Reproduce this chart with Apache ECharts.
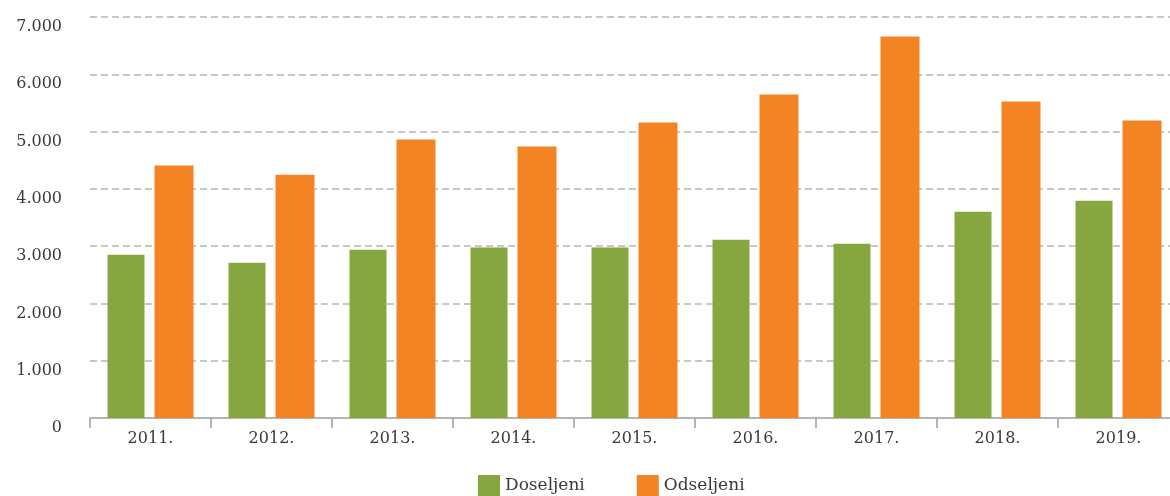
<!DOCTYPE html>
<html>
<head>
<meta charset="utf-8">
<script src="https://cdn.jsdelivr.net/npm/echarts@6/dist/echarts.min.js"></script>
<style>
  html, body { margin: 0; padding: 0; background: #fff; }
  #chart { width: 1170px; height: 496px; }
</style>
</head>
<body>
<div id="chart"></div>
<script>
// godine
const years = ['2011.', '2012.', '2013.', '2014.', '2015.', '2016.', '2017.', '2018.', '2019.']
// doseljeni / odseljeni
const doseljeni = [2850, 2710, 2937, 2977, 2977, 3112, 3042, 3601, 3794]
const odseljeni = [4406, 4248, 4860, 4738, 5157, 5647, 6661, 5524, 5192]
const yTicks = [0, 1000, 2000, 3000, 4000, 5000, 6000, 7000]

const font = 'DejaVu Serif'
const chart = echarts.init(document.getElementById('chart'))

const option = {
  animation: false,
  grid: {
    left: 90,
    width: 1089,
    top: 17,
    height: 401,
    outerBoundsMode: 'none',
    containLabel: false
  },
  legend: {
    top: 470,
    left: 473,
    itemWidth: 22,
    itemHeight: 22,
    itemGap: 52,
    icon: 'rect',
    textStyle: {
      fontFamily: font,
      fontSize: 17,
      color: '#3a3a3a'
    },
    data: ['Doseljeni', 'Odseljeni']
  },
  xAxis: {
    type: 'category',
    data: years,
    axisLine: { lineStyle: { color: '#b4b4b4', width: 2 } },
    axisTick: { show: true, length: 10, lineStyle: { color: '#b4b4b4', width: 2 } },
    axisLabel: {
      fontFamily: font,
      fontSize: 16,
      color: '#3a3a3a',
      margin: 13
    }
  },
  yAxis: {
    type: 'value',
    min: yTicks[0],
    max: yTicks[yTicks.length - 1],
    interval: 1000,
    axisLine: { show: false },
    axisTick: { show: false },
    axisLabel: {
      fontFamily: font,
      fontSize: 16,
      color: '#3a3a3a',
      margin: 28,
      verticalAlign: 'top',
      lineHeight: 12,
      padding: [4, 0, 0, 0],
      formatter: function (v) {
        return v === 0 ? '0' : (v / 1000) + '.000'
      }
    },
    splitLine: {
      lineStyle: { color: '#c8c8c8', width: 2, type: [7, 4] }
    }
  },
  series: [
    {
      name: 'Doseljeni',
      type: 'bar',
      barWidth: 37,
      barGap: '27%',
      itemStyle: { color: '#86a63f' },
      data: doseljeni
    },
    {
      name: 'Odseljeni',
      type: 'bar',
      barWidth: 39,
      barGap: '27%',
      itemStyle: { color: '#f38423' },
      data: odseljeni
    }
  ]
}
chart.setOption(option)
window.addEventListener('resize', function () {
  chart.resize()
})
</script>
</body>
</html>
